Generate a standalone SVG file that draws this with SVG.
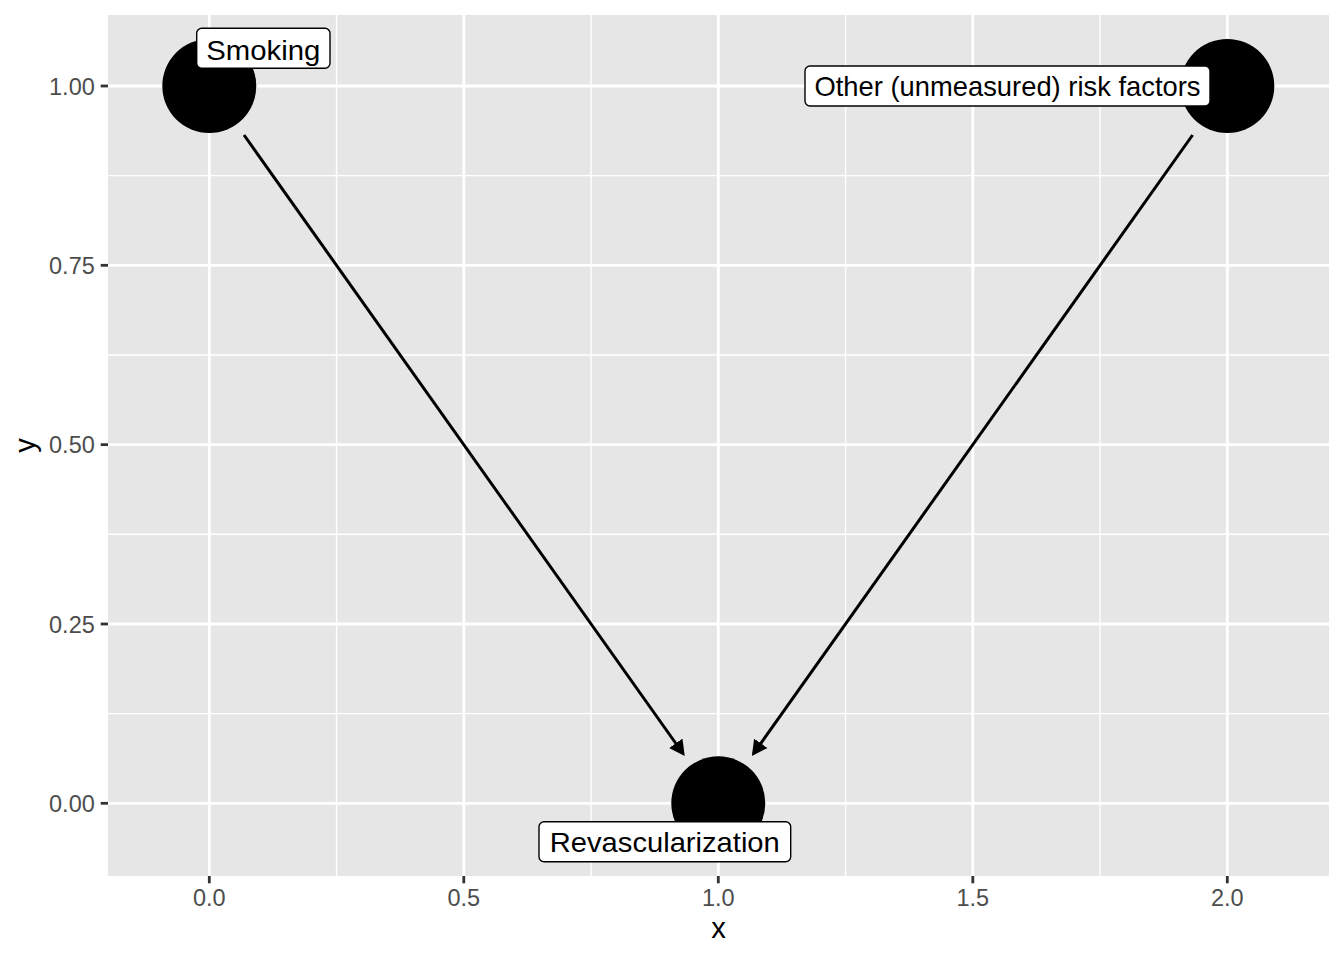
<svg xmlns="http://www.w3.org/2000/svg" width="1344" height="960" viewBox="0 0 1344 960">
<style>
.major{stroke:#FFFFFF;stroke-width:2.8;fill:none}
.minor{stroke:#FFFFFF;stroke-width:1.4;fill:none}
.tick{stroke:#333333;stroke-width:2.8}
.tl{font-family:"Liberation Sans",Arial,sans-serif;font-size:23.5px;fill:#4D4D4D}
.title{font-family:"Liberation Sans",Arial,sans-serif;font-size:29.3px;fill:#000000;text-anchor:middle}
.node{fill:#000000}
.lbox{fill:#FFFFFF;stroke:#000000;stroke-width:1.4}
.ltext{font-family:"Liberation Sans",Arial,sans-serif;font-size:28.5px;fill:#000000;text-anchor:middle}
.edge{stroke:#000000;stroke-width:3;fill:none;marker-end:url(#arrow)}
</style>
<defs>
<marker id="arrow" markerUnits="userSpaceOnUse" viewBox="0 -8.5 16 17" markerWidth="16" markerHeight="17" refX="12.5" refY="0" orient="auto">
<path d="M0,-8.2 L15.5,0 L0,8.2 Z" fill="#000000"/>
</marker>
</defs>
<rect width="1344" height="960" fill="#FFFFFF"/>
<g id="panel">
<rect x="108" y="15" width="1221" height="861" fill="#E6E6E6"/>
<g class="minor">
<line x1="108" y1="713.65" x2="1329" y2="713.65"/>
<line x1="108" y1="534.3" x2="1329" y2="534.3"/>
<line x1="108" y1="355" x2="1329" y2="355"/>
<line x1="108" y1="175.65" x2="1329" y2="175.65"/>
<line x1="336.55" y1="15" x2="336.55" y2="876"/>
<line x1="591.05" y1="15" x2="591.05" y2="876"/>
<line x1="845.55" y1="15" x2="845.55" y2="876"/>
<line x1="1100.05" y1="15" x2="1100.05" y2="876"/>
</g>
<g class="major">
<line x1="108" y1="803.3" x2="1329" y2="803.3"/>
<line x1="108" y1="624" x2="1329" y2="624"/>
<line x1="108" y1="444.65" x2="1329" y2="444.65"/>
<line x1="108" y1="265.3" x2="1329" y2="265.3"/>
<line x1="108" y1="86" x2="1329" y2="86"/>
<line x1="209.3" y1="15" x2="209.3" y2="876"/>
<line x1="463.8" y1="15" x2="463.8" y2="876"/>
<line x1="718.3" y1="15" x2="718.3" y2="876"/>
<line x1="972.8" y1="15" x2="972.8" y2="876"/>
<line x1="1227.3" y1="15" x2="1227.3" y2="876"/>
</g>
</g>
<g id="axes">
<g class="tick">
<line x1="100.7" y1="803.3" x2="108" y2="803.3"/>
<line x1="100.7" y1="624" x2="108" y2="624"/>
<line x1="100.7" y1="444.65" x2="108" y2="444.65"/>
<line x1="100.7" y1="265.3" x2="108" y2="265.3"/>
<line x1="100.7" y1="86" x2="108" y2="86"/>
<line x1="209.3" y1="876" x2="209.3" y2="883.3"/>
<line x1="463.8" y1="876" x2="463.8" y2="883.3"/>
<line x1="718.3" y1="876" x2="718.3" y2="883.3"/>
<line x1="972.8" y1="876" x2="972.8" y2="883.3"/>
<line x1="1227.3" y1="876" x2="1227.3" y2="883.3"/>
</g>
<g class="tl" text-anchor="end">
<text x="94.8" y="811.8">0.00</text>
<text x="94.8" y="632.5">0.25</text>
<text x="94.8" y="453.1">0.50</text>
<text x="94.8" y="273.8">0.75</text>
<text x="94.8" y="94.5">1.00</text>
</g>
<g class="tl" text-anchor="middle">
<text x="209.3" y="906">0.0</text>
<text x="463.8" y="906">0.5</text>
<text x="718.3" y="906">1.0</text>
<text x="972.8" y="906">1.5</text>
<text x="1227.3" y="906">2.0</text>
</g>
<text class="title" x="718.5" y="938">x</text>
<text class="title" transform="translate(35.2,445.5) rotate(-90)">y</text>
</g>
<g id="connectors">
<line class="edge" x1="244" y1="135" x2="683" y2="753.5"/>
<line class="edge" x1="1192.6" y1="135" x2="753.6" y2="753.5"/>
</g>
<g id="node-smoking">
<circle class="node" cx="209.3" cy="86" r="47"/>
<rect class="lbox" x="196.7" y="28.3" width="133.3" height="40" rx="5"/>
<text class="ltext" x="263.3" y="60" textLength="114" lengthAdjust="spacingAndGlyphs">Smoking</text>
</g>
<g id="node-other">
<circle class="node" cx="1227.3" cy="86" r="47"/>
<rect class="lbox" x="805" y="66" width="405" height="40" rx="5"/>
<text class="ltext" x="1007.5" y="96" textLength="386" lengthAdjust="spacingAndGlyphs">Other (unmeasured) risk factors</text>
</g>
<g id="node-revasc">
<circle class="node" cx="718.3" cy="803.3" r="47"/>
<rect class="lbox" x="539" y="821.7" width="251.7" height="40" rx="5"/>
<text class="ltext" x="664.8" y="852" textLength="230" lengthAdjust="spacingAndGlyphs">Revascularization</text>
</g>
</svg>
